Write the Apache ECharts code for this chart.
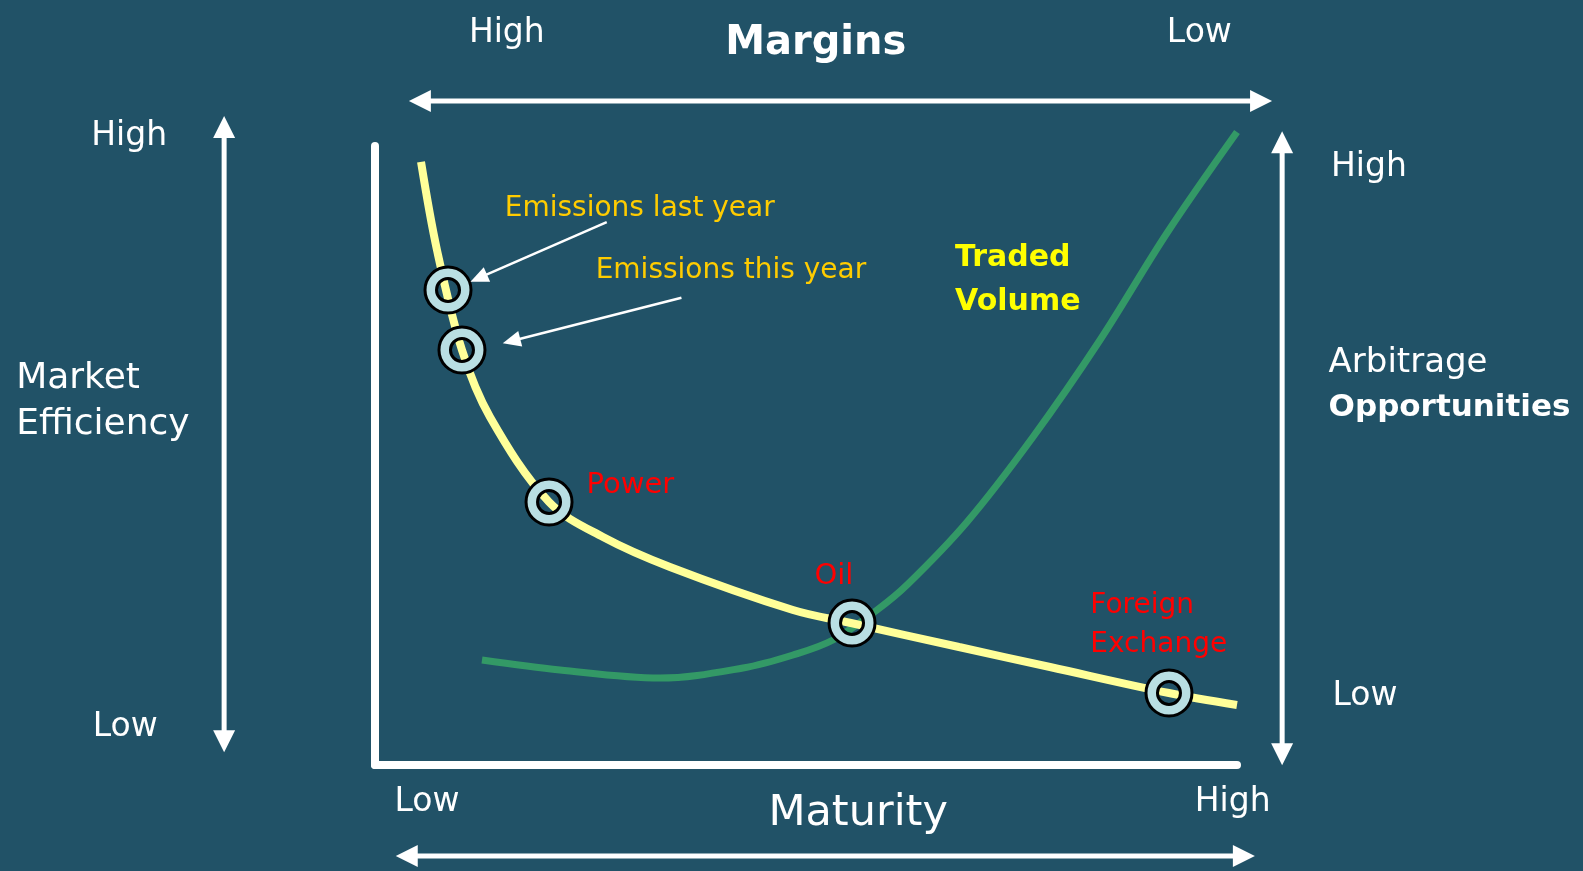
<!DOCTYPE html>
<html><head><meta charset="utf-8">
<script src="https://cdn.jsdelivr.net/npm/echarts@6/dist/echarts.min.js"></script>
<style>html,body{margin:0;padding:0;background:#215267;}#c{width:1583px;height:871px;}</style>
</head><body><div id="c"></div>
<script>
// Maturity (0-100) vs level (0-100)
const efficiencyCurve = [[5.34,97.42],[7.19,83.2],[10.09,67.04],[13.34,56.22],[20.19,42.49],[26.45,36.83],[34.22,31.99],[48.49,25.04],[55.22,22.94],[67.75,19.06],[78.31,15.83],[92.11,11.63],[100,9.69]];
const volumeCurve = [[12.41,16.96],[21.46,15.35],[33.06,14.05],[42.69,15.67],[48.49,17.77],[53.13,20.19],[58.24,25.04],[61.83,29.24],[68.68,39.26],[76.33,52.99],[84.11,68.66],[91.88,85.95],[100,102.26]];
const marketNames = ['Emissions last year','Emissions this year','Power','Oil','Foreign Exchange'];
const marketPoints = [[8.47,76.74],[10.09,67.04],[20.19,42.49],[55.34,22.94],[92.11,11.63]];

const k = 1583/1568;
const S = v => v*k;
const FONT = '"DejaVu Sans", Verdana, sans-serif';
function txt(x,y,text,size,color,opts){
  opts = opts||{};
  return {type:'text', x:S(x), y:S(y)+3, z:10, style:{text:text, fill:color, font:(opts.bold?'bold ':'')+size+'px '+FONT,
    textAlign:opts.align||'left', textVerticalAlign:'middle', lineHeight:opts.lh||size*1.2}};
}
function arrow(x1,y1,x2,y2,w,hl,hw,both){
  x1=S(x1);y1=S(y1);x2=S(x2);y2=S(y2);
  const dx=x2-x1, dy=y2-y1, L=Math.hypot(dx,dy), ux=dx/L, uy=dy/L, px=-uy, py=ux;
  const els=[];
  const sx = both? x1+ux*hl*0.9 : x1, sy = both? y1+uy*hl*0.9 : y1;
  els.push({type:'line', z:10, shape:{x1:sx,y1:sy,x2:x2-ux*hl*0.9,y2:y2-uy*hl*0.9}, style:{stroke:'#fff', lineWidth:w}});
  const head=(tx,ty,dirx,diry)=>({type:'polygon', z:10, shape:{points:[[tx,ty],[tx-dirx*hl+px*hw,ty-diry*hl+py*hw],[tx-dirx*hl-px*hw,ty-diry*hl-py*hw]]}, style:{fill:'#fff'}});
  els.push(head(x2,y2,ux,uy));
  if(both) els.push(head(x1,y1,-ux,-uy));
  return els;
}
const graphics = [].concat(
  [txt(502,30,'High',33,'#fff',{align:'center'}),
   txt(808,40,'Margins',40,'#fff',{align:'center',bold:true}),
   txt(1188,30,'Low',33,'#fff',{align:'center'}),
   txt(128,132,'High',33,'#fff',{align:'center'}),
   txt(124,718,'Low',33,'#fff',{align:'center'}),
   txt(16,395,'Market\nEfficiency',36,'#fff',{lh:46}),
   txt(1356,163,'High',33,'#fff',{align:'center'}),
   txt(1352,687,'Low',33,'#fff',{align:'center'}),
   txt(1316,357,'Arbitrage',34,'#fff'),
   txt(1316,401,'Opportunities',31,'#fff',{bold:true}),
   txt(423,792,'Low',33,'#fff',{align:'center'}),
   txt(1221,792,'High',33,'#fff',{align:'center'}),
   txt(850,803,'Maturity',43,'#fff',{align:'center'}),
   txt(946,275,'Traded\nVolume',30,'#ffff00',{bold:true,lh:44}),
   txt(500,204,marketNames[0],28,'#ffcc00'),
   txt(590,265,marketNames[1],28,'#ffcc00'),
   txt(581,478,marketNames[2],29,'#ff0000'),
   txt(826,568,marketNames[3],29,'#ff0000',{align:'center'}),
   txt(1080,616,'Foreign\nExchange',28,'#ff0000',{lh:39})
  ],
  arrow(405,100,1260,100,5,22,11,true),
  arrow(222,115,222,745,5,22,11,true),
  arrow(1270,130,1270,758,5,22,11,true),
  arrow(392,848,1243,848,5,22,11,true),
  arrow(601,220,466,279,2.5,18,8,false),
  arrow(675,295,498,340,2.5,18,8,false)
);

const chart = echarts.init(document.getElementById('c'));
chart.setOption({
  backgroundColor:'#215267',
  animation:false,
  grid:{left:375, right:346, top:146, bottom:106},
  xAxis:{type:'value', min:0, max:100, axisLine:{lineStyle:{color:'#fff', width:8}}, axisTick:{show:false}, axisLabel:{show:false}, splitLine:{show:false}},
  yAxis:{type:'value', min:0, max:100, axisLine:{show:true, lineStyle:{color:'#fff', width:8}}, axisTick:{show:false}, axisLabel:{show:false}, splitLine:{show:false}},
  graphic: graphics,
  series:[
    {type:'line', data:volumeCurve, smooth:0.35, showSymbol:false, clip:false, lineStyle:{color:'#339966', width:7}, z:2},
    {type:'line', data:efficiencyCurve, smooth:0.35, showSymbol:false, clip:false, lineStyle:{color:'#ffff99', width:8}, z:3},
    {type:'custom', data:marketPoints, z:5, clip:false,
     renderItem:(params,api)=>{
       const p = api.coord([api.value(0), api.value(1)]);
       return {type:'ring', shape:{cx:p[0], cy:p[1], r:23, r0:11.5}, style:{fill:'#b9dfe3', stroke:'#000', lineWidth:3}};
     }}
  ]
});
</script></body></html>
